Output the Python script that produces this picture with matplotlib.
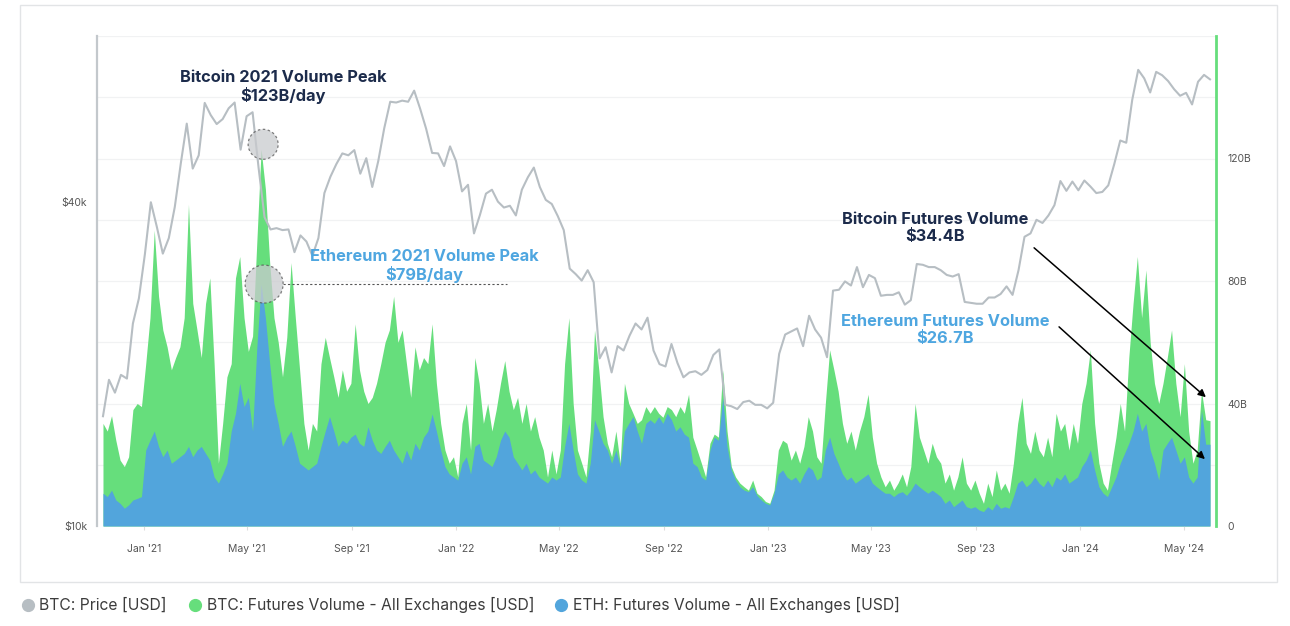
import matplotlib
matplotlib.use("Agg")
import matplotlib.pyplot as plt
import matplotlib.dates as mdates
from matplotlib.patches import Circle, Rectangle
from matplotlib.lines import Line2D
from matplotlib.transforms import IdentityTransform
import numpy as np
import pandas as pd

plt.rcParams['font.family'] = ['Inter', 'DejaVu Sans']

# weekly BTC price (USD), starting 2020-11-14
price_start = "2020-11-14"
btc_price = [
    16000, 18700, 17700, 19100, 18800, 23800, 26500,
    32000, 40000, 36000, 32100, 34300, 39200, 47200, 56000, 46200, 48900,
    61200, 58100, 55900, 57100, 59800, 61300, 50100, 57800, 58800, 46400,
    37500, 35600, 35800, 35500, 35600, 32300, 34700, 33800, 31800, 34300,
    41600, 44600, 47100, 49300, 48900, 50000, 45200, 48300, 42700, 47700,
    54900, 61500, 61300, 61800, 61500, 64500, 59700, 54800, 49400, 49300,
    46700, 50800,
    47700, 41900, 43100, 35000, 37900, 41500, 42200, 40100, 39100, 39400,
    37800, 42200, 44500, 46400, 42700, 40400, 39700, 37700, 35500, 30100,
    29400, 28600, 29900, 28400, 20500, 21500, 19300, 21600, 21200, 22600,
    23800, 23200, 24400, 21200, 20000, 19800, 21800, 20100, 18900, 19300,
    19400, 19100, 19500, 20800, 21300, 16800, 16700, 16500, 17000, 17100,
    16800, 16800, 16550,
    16950, 20900, 22700, 23000, 23300, 21600, 24600, 23200, 22400, 20600,
    27400, 27500, 28500, 28000, 30300, 27800, 29300, 28900, 26800, 26900,
    26900, 27200, 25800, 26300, 30700, 30600, 30300, 30300, 29900, 29300,
    29100, 29400, 26100, 26000, 25900, 25900, 26600, 26600, 27000, 27900,
    26900, 29900, 34500, 35000, 37100, 36600, 37800, 39500, 43800, 42000,
    43700, 42100,
    43900, 42800, 41600, 41800, 43000, 47100, 52100, 51600, 62000, 70500,
    68000, 64000, 69900, 68900, 67200, 64900, 63100, 63900, 60800, 67000,
    69000, 67700,
]

# futures volume every 5 days (billion USD), starting 2020-11-14
vol_start = "2020-11-14"
btc_vol = [
    33.5, 31, 36, 28, 21.5, 19.4, 22.6, 38, 40, 39,
    53, 68, 96.6, 75, 64, 58.5, 51, 55, 58.5, 68,
    105, 72.7, 64, 55, 72.7, 81, 53, 20.5, 33.5, 48.7,
    53, 81, 88, 68, 57, 62, 93, 123, 110, 86,
    68, 60, 48.7, 61.6, 86, 68, 51, 33.5, 24.8, 33.5,
    31, 53, 61.6, 55, 48.7, 42, 51, 44, 46.6, 66,
    51, 44, 40, 42, 46.6, 53, 60, 64, 75, 60,
    64, 53, 42, 58.5, 51, 55, 53, 66, 46.6, 33.5,
    24.8, 20.5, 22.6, 16, 33.5, 40, 24.8, 55, 46.6, 33.5,
    40, 31, 38, 46.6, 54, 44, 38, 42, 33.5, 40,
    31, 35.7, 29, 24.8, 16, 24.8, 17, 24.8, 53, 68,
    40, 24.8, 20.5, 16, 31, 64, 51, 35.7, 27, 22.6,
    31, 20.5, 46.6, 40, 36.8, 33.5, 34.7, 39, 36.8, 39,
    36.8, 35.5, 39, 38, 35.7, 39, 36.8, 43, 29, 24.8,
    20.5, 16, 27, 30, 29, 51, 31, 19.4, 16, 14,
    12.8, 11.7, 15, 10.7, 9.6, 8, 7.4, 11.7, 24.8, 28,
    27, 21.5, 24.8, 20.5, 26, 35.7, 31, 22.6, 20.5, 40,
    57.5, 51, 44, 33.5, 27, 31, 24.8, 31, 35.7, 43,
    29, 20.5, 16, 12.8, 15, 11.7, 14, 17, 12.8, 19.4,
    40, 29, 24.8, 20.5, 27, 22.6, 20.5, 14, 17, 11.7,
    16, 22.6, 14, 11.7, 15, 10.7, 7.4, 14, 9.6, 18.3,
    11.7, 14, 10.7, 20.5, 33.5, 42, 27, 23.7, 31, 24.8,
    22.6, 29, 22.6, 36.8, 31, 33.5, 24.8, 33.5, 27, 40,
    46.6, 57.5, 33.5, 20.5, 14, 11.7, 20.5, 29, 40, 31,
    55, 72.7, 88, 68, 83.6, 60, 46.6, 40, 46.6, 55,
    64, 46.6, 35.7, 53, 31, 20.5, 24.8, 44, 34.7, 34.4,
]
eth_vol = [
    10.7, 9.6, 11.7, 8.5, 7.4, 5.8, 6.9, 8.5, 9, 9.6,
    24.8, 28, 31, 26, 22.6, 24.8, 20.5, 21.5, 22.6, 23.7,
    26, 22.6, 24.8, 26, 23.7, 21.5, 16, 14, 17, 20.5,
    31, 36.8, 46.6, 39, 42, 31, 58.5, 79, 68, 53,
    40, 33.5, 26, 29, 31, 26, 20.5, 19.4, 18.3, 19.4,
    20.5, 26, 31, 35.7, 31, 26, 28, 27, 29, 30,
    27, 26, 32.4, 28, 24.8, 23.7, 26, 28, 24.8, 22.6,
    20.5, 24.8, 21.5, 27, 24.8, 29, 31, 36.6, 31, 24.8,
    19.4, 17, 16, 15, 20.5, 22.6, 17, 26, 27, 21.5,
    20.5, 19.4, 22.6, 28, 31, 29, 22.6, 20.5, 18.3, 20.5,
    17, 18.3, 16, 15, 14, 16, 15, 16, 26, 33.5,
    24.8, 17, 15, 14, 20.5, 34.7, 31, 27, 24.8, 20.5,
    24.8, 19.4, 31, 33.5, 35.7, 31, 27, 33.5, 34.7, 33.5,
    35.7, 33.5, 36.8, 34.7, 31, 32.4, 30, 29, 20.5, 19.4,
    16, 15, 24.8, 29, 28, 42, 26, 18.3, 15, 12.8,
    11.7, 11.2, 12.8, 10, 8.5, 7.4, 6.9, 10.7, 17, 18.3,
    16, 15, 16, 14, 17, 19.4, 18.3, 15, 16, 24.8,
    29, 23.7, 20.5, 17, 15, 16, 14, 15, 16, 17,
    14, 12.8, 11.7, 10.7, 10.7, 9.6, 10.7, 11.2, 10, 11.7,
    14, 12.8, 11.7, 10.7, 11.7, 10.7, 9.6, 7.4, 8.5, 6.3,
    7.4, 8.5, 6.3, 5.8, 6.3, 5.2, 4.7, 6.3, 5.2, 7.4,
    5.8, 6.3, 5.8, 9.6, 14, 15, 12.8, 14, 16, 14,
    12.8, 15, 12.8, 16, 15, 17, 14, 15, 16, 19.4,
    21.5, 24.8, 18.3, 12.8, 10.7, 9.6, 12.8, 16, 20.5, 23.7,
    27, 31, 36.8, 31, 33.5, 24.8, 20.5, 15, 24.8, 27,
    29, 24.8, 20.5, 22.6, 16, 14, 16, 37.7, 26.7, 26.7,
]

legend_labels = ["BTC: Price [USD]",
                 "BTC: Futures Volume - All Exchanges [USD]",
                 "ETH: Futures Volume - All Exchanges [USD]"]

GREEN = "#66de7c"
BLUE = "#52a5dc"
GRAY = "#b7bec3"
NAVY = "#1c2b4b"
LBLUE = "#4ea6e0"

price_dates = pd.date_range(price_start, periods=len(btc_price), freq="7D")
vol_dates = pd.date_range(vol_start, periods=len(btc_vol), freq="5D")
btc_v = np.array(btc_vol) * 1e9
eth_v = np.array(eth_vol) * 1e9

W, H = 1290, 626
fx = lambda px: px / W
fy = lambda py: 1 - py / H

fig = plt.figure(figsize=(W / 100, H / 100), dpi=100)
fig.add_artist(Rectangle((fx(20), fy(582)), fx(1277) - fx(20), fy(5) - fy(582),
                         fill=False, edgecolor="#e2e4e6", lw=1, transform=fig.transFigure))

ax = fig.add_axes([fx(97), fy(526), fx(1216) - fx(97), fy(36) - fy(526)])
axp = ax.twinx()

for v in range(20, 161, 20):
    ax.axhline(v * 1e9, color="#f1f2f3", lw=0.9, zorder=0)
ax.fill_between(vol_dates, btc_v, color=GREEN, lw=0, zorder=1)
ax.fill_between(vol_dates, eth_v, color=BLUE, lw=0, zorder=2)
ax.set_ylim(0, 160e9)
ax.set_xlim(pd.Timestamp("2020-11-07"), pd.Timestamp("2024-06-08"))
ax.yaxis.tick_right()
ax.set_yticks([0, 40e9, 80e9, 120e9])
ax.set_yticklabels(["0", "40B", "80B", "120B"])
ax.tick_params(axis="y", length=0, pad=8, labelsize=7.5, labelcolor="#555555")
ax.xaxis.set_major_locator(mdates.MonthLocator(bymonth=[1, 5, 9]))
ax.xaxis.set_major_formatter(mdates.DateFormatter("%b '%y"))
ax.tick_params(axis="x", length=3, color="#dddddd", pad=10, labelsize=7.5,
               labelcolor="#555555")
for s in ax.spines.values():
    s.set_visible(False)

axp.plot(price_dates, btc_price, color=GRAY, lw=1.5, zorder=3)
axp.set_yscale("log")
axp.set_ylim(10000, 81500)
axp.yaxis.tick_left()
axp.set_yticks([10000, 40000])
axp.set_yticklabels(["$10k", "$40k"])
axp.yaxis.set_minor_locator(matplotlib.ticker.NullLocator())
axp.tick_params(axis="y", length=0, pad=7, labelsize=7.5, labelcolor="#555555")
for k in ["top", "bottom"]:
    axp.spines[k].set_visible(False)
axp.spines["left"].set_color("#c3c8cc")
axp.spines["left"].set_linewidth(1.6)
axp.spines["right"].set_color(GREEN)
axp.spines["right"].set_linewidth(2)

# peak circles
ib = int(np.argmax(btc_v))
ie = int(np.argmax(eth_v))
bx, by = ax.transData.transform((mdates.date2num(vol_dates[ib]), btc_v[ib]))
ex, ey = ax.transData.transform((mdates.date2num(vol_dates[ie]), eth_v[ie]))
for (cx, cy, r) in [(bx + 2, by + 5, 15), (ex + 3, ey, 19)]:
    fig.add_artist(Circle((cx, cy), r, transform=IdentityTransform(),
                          facecolor="#c9cbce", alpha=0.75, edgecolor="#555555",
                          ls=(0, (2, 2)), lw=0.9, zorder=10))
ax.plot([vol_dates[ie] + pd.Timedelta(days=26), pd.Timestamp("2022-03-02")],
        [eth_v[ie], eth_v[ie]], color="#555555", lw=0.8, ls=(0, (2, 2)), zorder=6)

# annotations
fig.text(fx(283), fy(87), "Bitcoin 2021 Volume Peak\n$123B/day", ha="center",
         va="center", fontsize=11.8, fontweight="bold", color=NAVY, linespacing=1.2)
fig.text(fx(424), fy(266), "Ethereum 2021 Volume Peak\n$79B/day", ha="center",
         va="center", fontsize=11.8, fontweight="bold", color=LBLUE, linespacing=1.2)
fig.text(fx(935), fy(228), "Bitcoin Futures Volume\n$34.4B", ha="center",
         va="center", fontsize=11.8, fontweight="bold", color=NAVY, linespacing=1.2)
fig.text(fx(945), fy(330), "Ethereum Futures Volume\n$26.7B", ha="center",
         va="center", fontsize=11.8, fontweight="bold", color=LBLUE, linespacing=1.2)
for (x0, y0, x1, y1) in [(1032, 246, 1208, 399), (1057, 325, 1207, 461)]:
    fig.add_artist(matplotlib.patches.FancyArrowPatch(
        (fx(x0), fy(y0)), (fx(x1), fy(y1)), transform=fig.transFigure,
        arrowstyle="-|>", mutation_scale=11, color="black", lw=1.1, zorder=11))

# legend
for (dx, tx, lab, col) in [(28, 39, legend_labels[0], GRAY),
                           (195, 207, legend_labels[1], GREEN),
                           (561, 573, legend_labels[2], BLUE)]:
    fig.add_artist(Line2D([fx(dx)], [fy(605)], marker="o", ms=8.5, color=col,
                          transform=fig.transFigure))
    fig.text(fx(tx), fy(605), lab, ha="left", va="center", fontsize=11.3,
             color="#3c3c3c")

fig.savefig("out.png", dpi=100)
